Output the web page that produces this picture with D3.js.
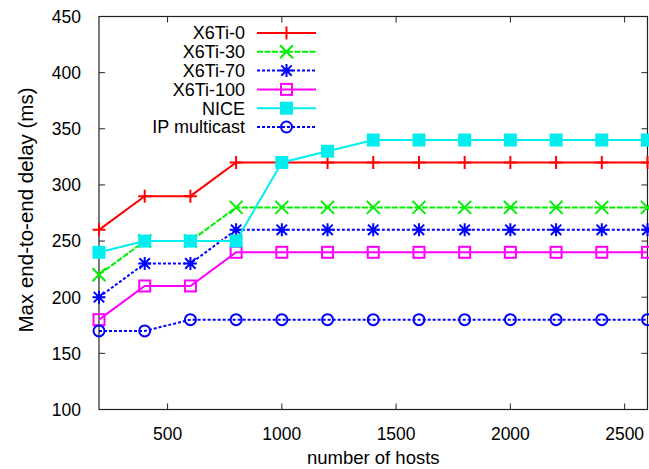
<!DOCTYPE html>
<html><head><meta charset="utf-8">
<script src="https://cdn.jsdelivr.net/npm/d3@7"></script>
<style>body{margin:0;background:#fff}svg{display:block;font-family:"Liberation Sans",Arial,sans-serif}</style>
</head><body>
<svg id="c" width="649" height="469"></svg>
<script>
const hosts = [200,400,600,800,1000,1200,1400,1600,1800,2000,2200,2400,2600];
const x6ti0   = [260,290,290,320,320,320,320,320,320,320,320,320,320];
const x6ti30  = [220,250,250,280,280,280,280,280,280,280,280,280,280];
const x6ti70  = [200,230,230,260,260,260,260,260,260,260,260,260,260];
const x6ti100 = [180,210,210,240,240,240,240,240,240,240,240,240,240];
const nice    = [240,250,250,250,320,330,340,340,340,340,340,340,340];
const ipmc    = [170,170,180,180,180,180,180,180,180,180,180,180,180];
const xTicks = [500,1000,1500,2000,2500];
const yTicks = [100,150,200,250,300,350,400,450];
const seriesNames = ["X6Ti-0","X6Ti-30","X6Ti-70","X6Ti-100","NICE","IP multicast"];

const series = [
  {name:seriesNames[0], vals:x6ti0, color:"#ff0000", dash:null, marker:"plus"},
  {name:seriesNames[1], vals:x6ti30, color:"#00ee00", dash:"6,1.5", marker:"cross"},
  {name:seriesNames[2], vals:x6ti70, color:"#0000ff", dash:"3,2", marker:"star"},
  {name:seriesNames[3], vals:x6ti100, color:"#ff00ff", dash:null, marker:"osq"},
  {name:seriesNames[4], vals:nice, color:"#00eeee", dash:null, marker:"fsq"},
  {name:seriesNames[5], vals:ipmc, color:"#0000ff", dash:"3,2", marker:"ocirc"}
];

const svg = d3.select("#c");
const L=99, R=647.5, T=16.5, B=409.5;
const x = d3.scaleLinear().domain([200,2600]).range([L,R]);
const y = d3.scaleLinear().domain([100,450]).range([B,T]);

const g = svg.append("g");
const tl = 6;
xTicks.forEach(v=>{
  g.append("line").attr("x1",x(v)).attr("x2",x(v)).attr("y1",B).attr("y2",B-tl).attr("stroke","#222");
  g.append("line").attr("x1",x(v)).attr("x2",x(v)).attr("y1",T).attr("y2",T+tl).attr("stroke","#222");
  g.append("text").attr("x",x(v)).attr("y",B+30).attr("text-anchor","middle").attr("font-size",17.5).attr("fill","#000").text(v);
});
yTicks.forEach(v=>{
  g.append("line").attr("x1",L).attr("x2",L+tl).attr("y1",y(v)).attr("y2",y(v)).attr("stroke","#222");
  g.append("line").attr("x1",R).attr("x2",R-tl).attr("y1",y(v)).attr("y2",y(v)).attr("stroke","#222");
  g.append("text").attr("x",L-18).attr("y",y(v)).attr("dy","0.36em").attr("text-anchor","end").attr("font-size",17.5).attr("fill","#000").text(v);
});
svg.append("rect").attr("x",L).attr("y",T).attr("width",R-L).attr("height",B-T).attr("fill","none").attr("stroke","#222").attr("stroke-width",1.2);

svg.append("text").attr("x",x(1400)).attr("y",464).attr("text-anchor","middle").attr("font-size",18.5).text("number of hosts");
svg.append("text").attr("transform","translate(33,210) rotate(-90)").attr("text-anchor","middle").attr("font-size",20.5).text("Max end-to-end delay (ms)");

function marker(sel, type, cx, cy, color){
  const s=6.5;
  if(type==="plus"){
    sel.append("path").attr("d",`M${cx-s},${cy}H${cx+s}M${cx},${cy-s}V${cy+s}`).attr("stroke",color).attr("stroke-width",2).attr("fill","none");
  } else if(type==="cross"){
    sel.append("path").attr("d",`M${cx-s},${cy-s}L${cx+s},${cy+s}M${cx-s},${cy+s}L${cx+s},${cy-s}`).attr("stroke",color).attr("stroke-width",2).attr("fill","none");
  } else if(type==="star"){
    sel.append("path").attr("d",`M${cx-s},${cy}H${cx+s}M${cx},${cy-s}V${cy+s}M${cx-s*0.8},${cy-s*0.8}L${cx+s*0.8},${cy+s*0.8}M${cx-s*0.8},${cy+s*0.8}L${cx+s*0.8},${cy-s*0.8}`).attr("stroke",color).attr("stroke-width",2).attr("fill","none");
  } else if(type==="osq"){
    sel.append("rect").attr("x",cx-5.5).attr("y",cy-5.5).attr("width",11).attr("height",11).attr("stroke",color).attr("stroke-width",2).attr("fill","none");
  } else if(type==="fsq"){
    sel.append("rect").attr("x",cx-6.5).attr("y",cy-6.5).attr("width",13).attr("height",13).attr("fill",color);
  } else if(type==="ocirc"){
    sel.append("circle").attr("cx",cx).attr("cy",cy).attr("r",5.5).attr("stroke",color).attr("stroke-width",2).attr("fill","none");
  }
}

const line = d3.line().x((d,i)=>x(hosts[i])).y(d=>y(d));
series.forEach(s=>{
  const gs = svg.append("g");
  gs.append("path").datum(s.vals).attr("d",line).attr("fill","none").attr("stroke",s.color).attr("stroke-width",2).attr("stroke-dasharray",s.dash);
  s.vals.forEach((v,i)=>marker(gs,s.marker,x(hosts[i]),y(v),s.color));
});

const lx0=257, lx1=316, ly0=33, ldy=18.8;
series.forEach((s,i)=>{
  const yy = ly0+i*ldy;
  svg.append("text").attr("x",245).attr("y",yy).attr("dy","0.36em").attr("text-anchor","end").attr("font-size",18).text(s.name);
  svg.append("line").attr("x1",lx0).attr("x2",lx1).attr("y1",yy).attr("y2",yy).attr("stroke",s.color).attr("stroke-width",2).attr("stroke-dasharray",s.dash);
  marker(svg,s.marker,(lx0+lx1)/2,yy,s.color);
});
</script>
</body></html>
